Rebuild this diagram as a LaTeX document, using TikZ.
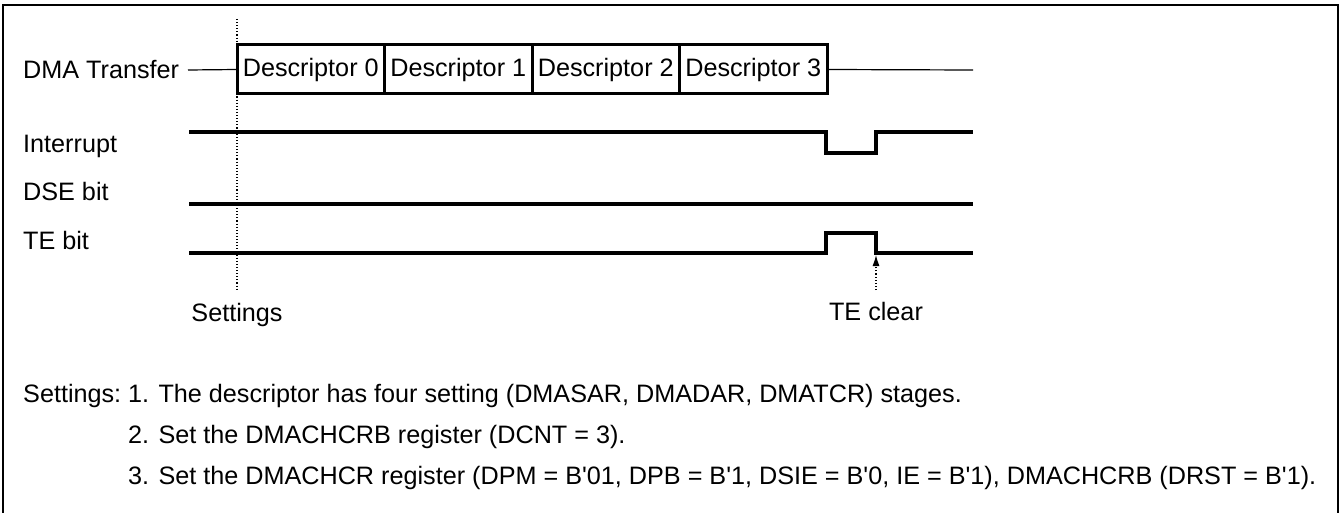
\documentclass[tikz,border=0pt]{standalone}
\usepackage{fontspec}
\newfontfamily\arial{Liberation Sans}
\usetikzlibrary{positioning,arrows.meta}
\begin{document}
\begin{tikzpicture}
[x=1pt,y=-1pt,
 every node/.style={font=\arial\fontsize{25.2}{30}\selectfont},
 lbl/.style={inner sep=0pt,anchor=base west},
 desc/.style={draw,line width=3pt,minimum width=147.5pt,minimum height=49pt,inner sep=0pt,outer sep=0pt},
 sig/.style={line width=3.2pt},
 guide/.style={dotted,line width=1.1pt}]
\useasboundingbox (0,0) rectangle (1341,513);
% frame
\draw[line width=2.6pt] (3,513) -- (3,5) -- (1338,5) -- (1338,513);
% settings marker
\draw[guide] (237,19) -- (237,290);
% DMA transfer
\node[lbl] (dma) at (23,79) {DMA Transfer};
\node[desc,anchor=west] (d0) at (237,69.5) {Descriptor 0};
\node[desc,right=0pt of d0] (d1) {Descriptor 1};
\node[desc,right=0pt of d1] (d2) {Descriptor 2};
\node[desc,right=0pt of d2] (d3) {Descriptor 3};
\coordinate (dmaL) at (188,70);
\coordinate (dmaR) at (973,70);
\draw[line width=1.2pt] (dmaL) -- (d0.west);
\draw[line width=1.2pt] (d3.east) -- (dmaR);
% interrupt
\node[lbl] (intr) at (23,153) {Interrupt};
\draw[sig] (189,132) -- (826,132) -- (826,153) -- (876,153) -- (876,132) -- (973,132);
% DSE bit
\node[lbl] (dse) at (23,201) {DSE bit};
\draw[sig] (189,204) -- (973,204);
% TE bit
\node[lbl] (te) at (23,249) {TE bit};
\draw[sig] (189,253) -- (826,253) -- (826,233) -- (876,233) -- (876,253) -- (973,253);
% TE clear
\node[inner sep=0pt,anchor=base] (sset) at (237,321) {Settings};
\node[inner sep=0pt,anchor=base] (tclr) at (876,320) {TE clear};
\coordinate (clrtail) at (876,290);
\coordinate (clrtip) at (876,255);
\draw[guide,-{Latex[length=11pt,width=7pt]}] (clrtail) -- (clrtip);
% notes
\node[lbl] (notes) at (23,402) {Settings:};
\node[lbl] (n1) at (128,402) {1. The descriptor has four setting (DMASAR, DMADAR, DMATCR) stages.};
\node[lbl] (n2) at (128,443) {2. Set the DMACHCRB register (DCNT = 3).};
\node[lbl] (n3) at (128,484) {3. Set the DMACHCR register (DPM = B'01, DPB = B'1, DSIE = B'0, IE = B'1), DMACHCRB (DRST = B'1).};
\end{tikzpicture}
\end{document}
